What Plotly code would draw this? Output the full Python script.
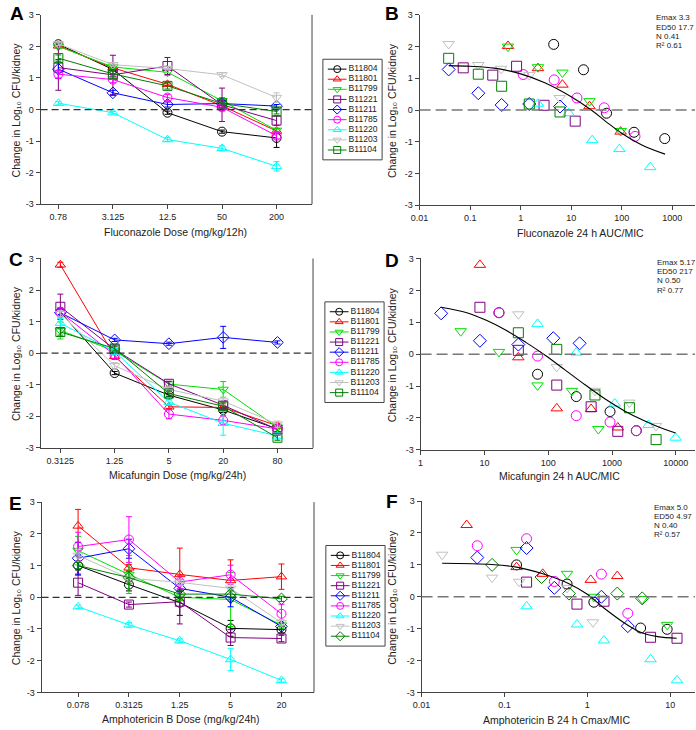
import plotly.graph_objects as go

W, H = 696, 730
FONT = "Liberation Sans, Arial, sans-serif"
AX = "#444444"
TXT = "#222222"

# ---------------- data ----------------
strains = ["B11804", "B11801", "B11799", "B11221", "B11211", "B11785", "B11220", "B11203", "B11104"]
colors = ["#000000", "#ff0000", "#00e000", "#800080", "#0000ff", "#ff00ff", "#00ffff", "#c0c0c0", "#008000"]
symbols_ac = ["circle-open", "triangle-up-open", "triangle-down-open", "square-open", "diamond-open",
              "circle-open", "triangle-up-open", "triangle-down-open", "square-open"]
symbols_e = ["circle-open", "triangle-up-open", "triangle-down-open", "square-open", "diamond-open",
             "circle-open", "triangle-up-open", "triangle-down-open", "diamond-open"]

# Fluconazole
flu_doses = ["0.78", "3.125", "12.5", "50", "200"]
flu_change = [
    [2.07, 1.27, -0.10, -0.70, -0.90],
    [2.02, 1.32, 0.80, 0.12, -0.68],
    [2.00, 1.35, 1.18, 0.28, -0.66],
    [1.33, 1.10, 1.38, 0.15, -0.35],
    [1.28, 0.53, 0.16, 0.19, 0.11],
    [1.12, 0.95, 0.38, 0.07, -0.83],
    [0.20, -0.10, -0.95, -1.23, -1.80],
    [2.08, 1.42, 1.30, 1.10, 0.38],
    [1.63, 1.13, 0.75, 0.19, -0.06],
]
flu_sem = [
    [0.05, 0.05, 0.05, 0.05, 0.30],
    [0.05, 0.05, 0.05, 0.05, 0.08],
    [0.05, 0.05, 0.10, 0.10, 0.05],
    [0.72, 0.62, 0.27, 0.53, 0.15],
    [0.30, 0.08, 0.08, 0.05, 0.05],
    [0.12, 0.10, 0.10, 0.10, 0.10],
    [0.05, 0.04, 0.06, 0.08, 0.15],
    [0.05, 0.05, 0.05, 0.06, 0.15],
    [0.10, 0.10, 0.10, 0.05, 0.08],
]
flu_auc_mic = [
    [4.5, 17.5, 50, 175, 710],
    [0.56, 2.2, 6.7, 23, 95],
    [0.56, 2.2, 6.7, 23, 95],
    [0.073, 0.28, 0.83, 2.9, 12],
    [0.0376, 0.145, 0.42, 1.48, 6.0],
    [1.12, 4.6, 13, 45, 183],
    [2.2, 8.9, 26, 90, 365],
    [0.0376, 0.145, 0.41, 1.48, 5.9],
    [0.0376, 0.145, 0.42, 1.48, 6.0],
]
flu_fit_x = [0.0376, 0.1, 0.3, 1.0, 3.0, 10, 25, 50, 100, 250, 720]
flu_fit_y = [1.40, 1.38, 1.32, 1.14, 0.86, 0.42, 0.0, -0.38, -0.73, -1.10, -1.39]
flu_stats = ["Emax 3.3", "ED50 17.7", "N 0.41", "R² 0.61"]

# Micafungin
mica_doses = ["0.3125", "1.25", "5", "20", "80"]
mica_change = [
    [1.30, -0.63, -1.33, -1.80, -2.40],
    [2.80, -0.10, -1.70, -1.72, -2.30],
    [0.72, 0.07, -0.98, -1.15, -2.35],
    [1.47, 0.12, -0.97, -1.65, -2.42],
    [1.28, 0.42, 0.30, 0.50, 0.34],
    [1.30, -0.06, -1.93, -2.13, -2.40],
    [0.95, 0.05, -1.55, -2.22, -2.62],
    [1.25, -0.40, -1.15, -1.52, -2.25],
    [0.67, 0.15, -1.28, -1.68, -2.68],
]
mica_sem = [
    [0.10, 0.05, 0.05, 0.08, 0.08],
    [0.08, 0.10, 0.05, 0.05, 0.08],
    [0.27, 0.05, 0.08, 0.25, 0.05],
    [0.40, 0.08, 0.08, 0.10, 0.08],
    [0.05, 0.05, 0.05, 0.35, 0.05],
    [0.15, 0.10, 0.15, 0.15, 0.10],
    [0.15, 0.10, 0.10, 0.38, 0.10],
    [0.10, 0.10, 0.10, 0.12, 0.10],
    [0.10, 0.08, 0.08, 0.10, 0.08],
]
mica_auc_mic = [
    [16.9, 68, 275, 930, 2400],
    [8.5, 34, 136, 470, 1230],
    [4.25, 16.9, 68, 235, 610],
    [8.5, 34, 136, 470, 1230],
    [2.1, 8.5, 34, 120, 310],
    [16.9, 68, 275, 930, 2400],
    [68, 275, 1100, 3730, 9900],
    [34, 136, 540, 1870, 4900],
    [34, 136, 540, 1870, 4900],
]
mica_fit_x = [2.1, 5.3, 10.7, 21.8, 44.5, 90.7, 185, 377, 770, 1570, 3200, 6500, 9900]
mica_fit_y = [1.47, 1.30, 1.06, 0.75, 0.37, -0.04, -0.50, -0.96, -1.40, -1.78, -2.09, -2.35, -2.47]
mica_stats = ["Emax 5.17", "ED50 217", "N 0.50", "R² 0.77"]

# Amphotericin B
amb_doses = ["0.078", "0.3125", "1.25", "5", "20"]
amb_change = [
    [1.00, 0.40, -0.17, -0.98, -1.02],
    [2.25, 0.93, 0.72, 0.53, 0.65],
    [1.47, 0.72, 0.00, -0.07, -0.88],
    [0.46, -0.23, -0.14, -1.27, -1.30],
    [1.23, 1.53, 0.28, 0.00, -0.92],
    [1.60, 1.82, 0.48, 0.71, -0.52],
    [-0.30, -0.87, -1.37, -1.96, -2.62],
    [1.32, 0.60, 0.47, 0.28, -0.80],
    [1.00, 0.62, 0.10, 0.10, -0.05],
]
amb_sem = [
    [0.30, 0.20, 0.40, 0.25, 0.10],
    [0.52, 0.10, 0.83, 0.65, 0.40],
    [0.45, 0.60, 0.10, 0.85, 0.10],
    [0.40, 0.08, 0.70, 0.25, 0.10],
    [0.50, 0.30, 0.10, 0.30, 0.10],
    [0.45, 0.72, 0.20, 0.30, 0.30],
    [0.05, 0.07, 0.06, 0.35, 0.05],
    [0.20, 0.15, 0.10, 0.15, 0.10],
    [0.10, 0.20, 0.10, 0.10, 0.08],
]
amb_cmax_mic = [
    [0.14, 0.57, 1.2, 4.4, 9.2],
    [0.035, 0.14, 0.29, 1.1, 2.3],
    [0.14, 0.57, 1.2, 4.6, 9.2],
    [0.185, 0.75, 1.59, 5.8, 12.1],
    [0.047, 0.185, 0.4, 1.48, 3.08],
    [0.047, 0.185, 0.4, 1.48, 3.08],
    [0.185, 0.75, 1.59, 5.8, 12.1],
    [0.0177, 0.071, 0.15, 0.57, 1.17],
    [0.071, 0.28, 0.6, 2.3, 4.6],
]
amb_fit_x = [0.0177, 0.07, 0.14, 0.29, 0.6, 1.0, 1.6, 2.8, 4.4, 7.1, 12]
amb_fit_y = [1.05, 1.01, 0.93, 0.72, 0.41, 0.08, -0.36, -0.82, -1.11, -1.25, -1.30]
amb_stats = ["Emax 5.0", "ED50 4.97", "N 0.40", "R² 0.57"]

y_ticks = [-3, -2, -1, 0, 1, 2, 3]
y_ticklabels = ["-3", "-2", "-1", "0", "1", "2", "3"]

# ---------------- helpers ----------------
def fx(p):
    return p / W

def fy(p):
    return 1 - p / H

fig = go.Figure()
layout = {}
shapes = []
annotations = []

YTITLE = "Change in Log₁₀ CFU/kidney"

def add_text(x, y, text, size=10, angle=0, xanchor="center", bold=False):
    t = "<b>%s</b>" % text if bold else text
    annotations.append(dict(x=fx(x), y=fy(y), xref="paper", yref="paper", text=t, showarrow=False,
                            xanchor=xanchor, yanchor="middle", textangle=angle, borderpad=0,
                            font=dict(family=FONT, size=size, color="#000000" if bold else TXT)))

def yaxis_cfg(top, bot, anchor):
    return dict(domain=[fy(bot), fy(top)], anchor=anchor, range=[-3, 3], tickmode="array",
                tickvals=y_ticks, ticktext=y_ticklabels, ticks="outside", ticklen=4, tickwidth=1,
                tickcolor=AX, showline=True, linecolor=AX, linewidth=1, showgrid=False, zeroline=False,
                tickfont=dict(family=FONT, size=9, color=TXT), fixedrange=True)

def dose_panel(n, doses, change, sem, symbols, x0, x1, top, bot, rng, xtitle, xt_pos):
    xa = "xaxis" if n == 1 else "xaxis%d" % n
    ya = "yaxis" if n == 1 else "yaxis%d" % n
    xr = "x" if n == 1 else "x%d" % n
    yr = "y" if n == 1 else "y%d" % n
    layout[xa] = dict(domain=[fx(x0), fx(x1)], anchor=yr, type="category", categoryorder="array",
                      categoryarray=doses, range=rng, ticks="outside", ticklen=4, tickwidth=1,
                      tickcolor=AX, showline=True, linecolor=AX, linewidth=1, showgrid=False,
                      zeroline=False, tickfont=dict(family=FONT, size=9, color=TXT), fixedrange=True)
    layout[ya] = yaxis_cfg(top, bot, xr)
    shapes.append(dict(type="line", xref=xr + " domain", yref=yr, x0=0, x1=1, y0=0, y1=0,
                       line=dict(color="#333333", width=1.2, dash="7px,4px")))
    shapes.append(dict(type="line", xref=xr + " domain", yref=yr + " domain", x0=1, x1=1, y0=0, y1=1,
                       line=dict(color=AX, width=1)))
    for i in range(len(strains)):
        fig.add_trace(go.Scatter(
            x=doses, y=change[i], mode="lines+markers", xaxis=xr, yaxis=yr, showlegend=False,
            line=dict(color=colors[i], width=1),
            marker=dict(symbol=symbols[i], size=9, color=colors[i], line=dict(width=1, color=colors[i])),
            error_y=dict(type="data", array=sem[i], color=colors[i], thickness=1, width=3)))
    add_text(xt_pos[0], xt_pos[1], xtitle, size=10.5)
    add_text(7, (top + bot) / 2, YTITLE, size=10.5, angle=-90)

def expo_panel(n, xs, change, symbols, fit_x, fit_y, x0, x1, top, bot, rng, tickvals, ticktext,
               xtitle, xt_pos, stats, st_pos):
    xa = "xaxis%d" % n
    ya = "yaxis%d" % n
    xr = "x%d" % n
    yr = "y%d" % n
    layout[xa] = dict(domain=[fx(x0), fx(x1)], anchor=yr, type="log", range=rng, tickmode="array",
                      tickvals=tickvals, ticktext=ticktext, ticks="outside", ticklen=4, tickwidth=1,
                      tickcolor=AX, showline=True, linecolor=AX, linewidth=1, showgrid=False,
                      zeroline=False, tickfont=dict(family=FONT, size=9, color=TXT), fixedrange=True)
    layout[ya] = yaxis_cfg(top, bot, xr)
    shapes.append(dict(type="line", xref=xr + " domain", yref=yr, x0=0, x1=1, y0=0, y1=0,
                       line=dict(color="#777777", width=1.5, dash="11px,5px")))
    for i in range(len(strains)):
        fig.add_trace(go.Scatter(
            x=xs[i], y=change[i], mode="markers", xaxis=xr, yaxis=yr, showlegend=False,
            marker=dict(symbol=symbols[i], size=10, color=colors[i], line=dict(width=1, color=colors[i]))))
    fig.add_trace(go.Scatter(x=fit_x, y=fit_y, mode="lines", xaxis=xr, yaxis=yr, showlegend=False,
                             line=dict(color="#000000", width=1.1, shape="spline")))
    add_text(xt_pos[0], xt_pos[1], xtitle, size=10.5)
    add_text(388, (top + bot) / 2, YTITLE, size=10.5, angle=-90)
    for k, s in enumerate(stats):
        add_text(st_pos[0], st_pos[1] + k * 9.4, s, size=8, xanchor="left")

def legend_box(n, symbols, x0, top):
    xr = "x%d" % n
    yr = "y%d" % n
    x1, bot = x0 + 60, top + 102
    layout["xaxis%d" % n] = dict(domain=[fx(x0), fx(x1)], anchor=yr, range=[0, 60], visible=False,
                                 fixedrange=True)
    layout["yaxis%d" % n] = dict(domain=[fy(bot), fy(top)], anchor=xr, type="category",
                                 categoryorder="array", categoryarray=strains, range=[8.976, -0.976],
                                 visible=False, fixedrange=True)
    shapes.append(dict(type="rect", xref="paper", yref="paper", x0=fx(x0), x1=fx(x1), y0=fy(bot),
                       y1=fy(top), line=dict(color=AX, width=1), fillcolor="rgba(0,0,0,0)"))
    for i, s in enumerate(strains):
        fig.add_trace(go.Scatter(x=[5, 24], y=[s, s], mode="lines", xaxis=xr, yaxis=yr, showlegend=False,
                                 line=dict(color=colors[i], width=1)))
        fig.add_trace(go.Scatter(x=[14.5], y=[s], mode="markers", xaxis=xr, yaxis=yr, showlegend=False,
                                 marker=dict(symbol=symbols[i], size=7, color=colors[i],
                                             line=dict(width=1, color=colors[i]))))
    fig.add_trace(go.Scatter(x=[26] * len(strains), y=strains, text=strains, mode="text",
                             textposition="middle right", xaxis=xr, yaxis=yr, showlegend=False,
                             textfont=dict(family=FONT, size=8.6, color=TXT)))

# ---------------- panels ----------------
dose_panel(1, flu_doses, flu_change, flu_sem, symbols_ac, 32, 307, 10, 202, [-0.326, 4.65],
           "Fluconazole Dose (mg/kg/12h)", (169, 230))
expo_panel(2, flu_auc_mic, flu_change, symbols_ac, flu_fit_x, flu_fit_y, 416, 695, 10, 203,
           [-2, 3.45], [0.01, 0.1, 1, 10, 100, 1000], ["0.01", "0.1", "1", "10", "100", "1000"],
           "Fluconazole 24 h AUC/MIC", (579, 231), flu_stats, (654, 13))
dose_panel(3, mica_doses, mica_change, mica_sem, symbols_ac, 32, 308, 257, 449, [-0.364, 4.655],
           "Micafungin Dose (mg/kg/24h)", (171, 477))
expo_panel(4, mica_auc_mic, mica_change, symbols_ac, mica_fit_x, mica_fit_y, 417, 695, 257, 451,
           [0, 4.30], [1, 10, 100, 1000, 10000], ["1", "10", "100", "1000", "10000"],
           "Micafungin 24 h AUC/MIC", (558, 478), mica_stats, (655, 261))
dose_panel(5, amb_doses, amb_change, amb_sem, symbols_e, 33, 309, 504, 697, [-0.718, 4.64],
           "Amphotericin B Dose (mg/kg/24h)", (174, 724))
expo_panel(6, amb_cmax_mic, amb_change, symbols_e, amb_fit_x, amb_fit_y, 418, 695, 503, 697,
           [-2, 1.30], [0.01, 0.1, 1, 10], ["0.01", "0.1", "1", "10"],
           "Amphotericin B 24 h Cmax/MIC", (555, 725), amb_stats, (652, 509))

legend_box(7, symbols_ac, 318, 55)
legend_box(8, symbols_ac, 320, 301)
legend_box(9, symbols_e, 321, 548)

for letter, (lx, ly) in zip(["A", "B", "C", "D", "E", "F"],
                            [(8, 9), (388, 9), (7, 258), (388, 259), (7, 505), (388, 503)]):
    add_text(lx, ly, letter, size=19, bold=True)

fig.update_layout(
    width=W, height=H, margin=dict(l=0, r=0, t=0, b=0, pad=0),
    paper_bgcolor="white", plot_bgcolor="rgba(0,0,0,0)",
    font=dict(family=FONT, size=9, color=TXT),
    showlegend=False, shapes=shapes, annotations=annotations, **layout)

fig.write_html("out.html", config={"displayModeBar": False, "staticPlot": True},
               post_script="document.body.style.margin='0px';document.body.style.overflow='hidden';")
